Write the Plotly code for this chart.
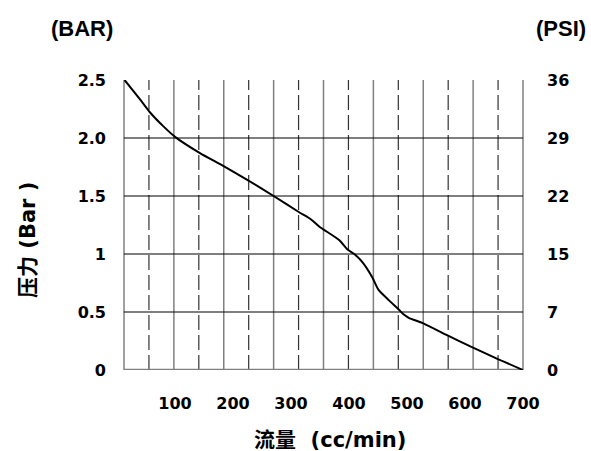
import plotly.graph_objects as go

# Data
flow = [13, 40, 57, 80, 100, 143, 183, 226, 270, 314, 334, 349, 383, 397,
        409, 423, 440, 451, 469, 486, 494, 503, 529, 569, 611, 654, 700]
pressure = [2.5, 2.33, 2.22, 2.10, 2.01, 1.87, 1.76, 1.635, 1.50, 1.36, 1.30,
            1.235, 1.12, 1.04, 1.00, 0.93, 0.80, 0.69, 0.60, 0.52, 0.48,
            0.45, 0.40, 0.30, 0.20, 0.10, 0.0]

x_ticks = [100, 200, 300, 400, 500, 600, 700]
bar_ticks = [0, 0.5, 1, 1.5, 2.0, 2.5]
bar_labels = ["0", "0.5", "1", "1.5", "2.0", "2.5"]
psi_labels = ["0", "7", "15", "22", "29", "36"]

FONT = "DejaVu Sans, Noto Sans CJK SC, sans-serif"
ARIAL = "Liberation Sans, Arial, sans-serif"
tick_font = dict(family=FONT, size=16, color="#000", weight="bold")

W, H = 591, 451
L, R, T, B = 124, 523, 80, 370

fig = go.Figure()
fig.add_trace(go.Scatter(x=flow, y=pressure, mode="lines",
                         line=dict(color="#000", width=2, shape="spline", smoothing=0.6),
                         showlegend=False, hoverinfo="skip"))
fig.add_trace(go.Scatter(x=[flow[0]], y=[pressure[0]], yaxis="y2", mode="markers",
                         marker=dict(opacity=0), showlegend=False, hoverinfo="skip"))

shapes = []
# vertical grid lines: solid and dashed alternating (16 intervals)
for i in range(17):
    xf = i / 16
    if i % 2 == 0:
        shapes.append(dict(type="line", xref="paper", yref="paper", x0=xf, x1=xf,
                           y0=0, y1=1, line=dict(color="#808080", width=1.5),
                           layer="below"))
    else:
        shapes.append(dict(type="line", xref="paper", yref="paper", x0=xf, x1=xf,
                           y0=0, y1=1, line=dict(color="#333", width=1.2, dash="15px,5px"),
                           layer="below"))
# horizontal grid lines
for v in bar_ticks[1:-1]:
    shapes.append(dict(type="line", xref="paper", yref="y", x0=0, x1=1, y0=v, y1=v,
                       line=dict(color="#000", width=1.2), layer="below"))
# bottom axis line
shapes.append(dict(type="line", xref="paper", yref="y", x0=0, x1=1, y0=0, y1=0,
                   line=dict(color="#808080", width=2.5), layer="below"))

title_font = dict(family=FONT, size=21, color="#000", weight="bold")
corner_font = dict(family=ARIAL, size=22, color="#000", weight="bold")

fig.update_layout(
    width=W, height=H,
    margin=dict(l=L, r=W - R, t=T, b=H - B),
    paper_bgcolor="white", plot_bgcolor="white",
    shapes=shapes,
    xaxis=dict(range=[12, 700], tickvals=x_ticks, showgrid=False, zeroline=False,
               showline=False, ticks="", tickfont=tick_font, ticklabelstandoff=22),
    yaxis=dict(range=[0, 2.5], tickvals=bar_ticks, ticktext=bar_labels, showgrid=False,
               zeroline=False, showline=False, ticks="", tickfont=tick_font,
               ticklabelstandoff=17),
    yaxis2=dict(range=[0, 2.5], overlaying="y", side="right", tickvals=bar_ticks,
                ticktext=psi_labels, showgrid=False, zeroline=False, showline=False,
                ticks="", tickfont=tick_font, ticklabelstandoff=23),
    annotations=[
        dict(text="(BAR)", x=82, y=28, showarrow=False, font=corner_font),
        dict(text="(PSI)", x=561, y=28, showarrow=False, font=corner_font),
        dict(text="压力 (Bar )", x=28, y=240, showarrow=False, textangle=-90,
             font=dict(family=FONT, size=21, color="#000", weight="bold")),
        dict(text="流量  (cc/min)", x=330, y=440, showarrow=False, font=title_font),
    ],
)

# convert pixel-positioned annotations (reference coordinates) into paper coordinates
pw, ph = R - L, B - T
for a in fig.layout.annotations:
    a.xref, a.yref = "paper", "paper"
    a.xanchor, a.yanchor = "center", "middle"
    a.x = (a.x - L) / pw
    a.y = 1 - (a.y - T) / ph

fig.write_html("out.html",
               config={"displayModeBar": False, "staticPlot": True},
               post_script="document.body.style.margin='0';"
                           "document.body.style.overflow='hidden';")
